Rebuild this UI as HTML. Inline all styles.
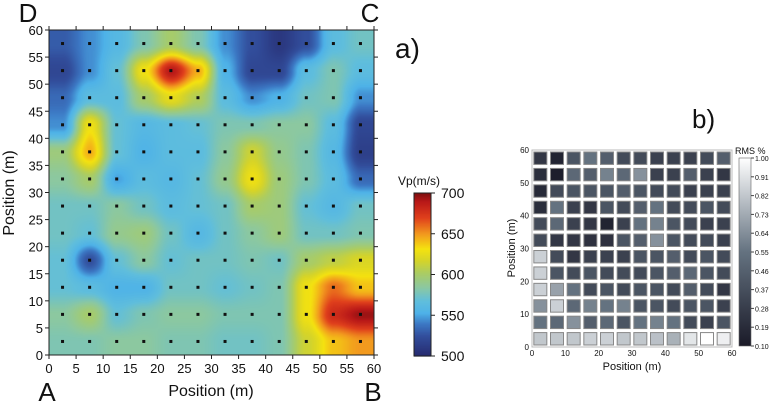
<!DOCTYPE html>
<html><head><meta charset="utf-8"><style>
body{margin:0;background:#fff;width:770px;height:403px;overflow:hidden;font-family:"Liberation Sans",sans-serif;}
svg{position:absolute;left:0;top:0}
canvas{position:absolute}
</style></head><body>
<canvas id="cv" width="325" height="325" style="left:49px;top:30px"></canvas>
<svg id="s" width="770" height="403"></svg>
<script>
const xCats=[2.5,7.5,12.5,17.5,22.5,27.5,32.5,37.5,42.5,47.5,52.5,57.5];
const yCats=[57.5,52.5,47.5,42.5,37.5,32.5,27.5,22.5,17.5,12.5,7.5,2.5];
const vp=[
[530,545,560,580,600,580,545,525,510,525,565,575],
[520,545,570,630,690,645,555,520,520,565,580,565],
[535,565,565,600,625,605,565,545,555,575,580,545],
[545,630,570,560,565,570,580,580,585,585,565,520],
[595,645,570,555,565,565,585,615,590,580,560,515],
[585,600,550,565,560,570,590,630,595,580,565,535],
[575,575,585,575,565,570,575,600,595,570,560,575],
[575,570,590,595,575,560,575,585,595,575,575,580],
[570,525,570,585,570,575,575,580,575,600,610,620],
[570,565,555,555,575,575,570,575,580,630,660,640],
[585,600,570,580,585,585,580,580,580,630,680,695],
[580,580,585,585,580,580,575,575,580,615,640,650]];
const vpTicks=[500,550,600,650,700];
const posTicks=[0,5,10,15,20,25,30,35,40,45,50,55,60];
const rms=[
[.25,.15,.40,.55,.45,.35,.35,.30,.30,.30,.35,.45],
[.20,.12,.50,.45,.60,.50,.65,.30,.30,.45,.30,.25],
[.18,.35,.40,.40,.40,.45,.40,.35,.35,.30,.30,.30],
[.20,.55,.30,.25,.40,.35,.45,.55,.35,.35,.40,.35],
[.35,.50,.30,.25,.15,.30,.55,.60,.40,.35,.30,.30],
[.35,.25,.25,.22,.22,.40,.45,.65,.40,.35,.35,.30],
[.85,.35,.25,.30,.30,.30,.40,.40,.45,.35,.40,.35],
[.85,.40,.35,.40,.35,.35,.35,.40,.45,.50,.40,.35],
[.85,.70,.55,.35,.40,.35,.40,.40,.35,.45,.35,.25],
[.65,.85,.50,.60,.55,.60,.40,.40,.35,.40,.40,.30],
[.55,.50,.65,.45,.50,.40,.55,.60,.55,.35,.30,.40],
[.82,.82,.82,.85,.85,.82,.82,.80,.75,.92,1.0,.95]];
const rmsTicks=["1.00","0.91","0.82","0.73","0.64","0.55","0.46","0.37","0.28","0.19","0.10"];
const bTicks=[0,10,20,30,40,50,60];

const NS="http://www.w3.org/2000/svg", S=document.getElementById('s');
function el(t,a,p){const e=document.createElementNS(NS,t);for(const k in a)e.setAttribute(k,a[k]);(p||S).appendChild(e);return e;}
function tx(x,y,s,size,anchor,name,extra){const e=el('text',Object.assign({x:x,y:y,'font-size':size,'text-anchor':anchor||'middle',fill:'#111','font-family':'Liberation Sans, sans-serif'},extra||{}));e.textContent=s;return e;}
const AX0=49,AX1=374,AY0=355,AY1=30;
const ax=v=>AX0+(AX1-AX0)*v/60, ay=v=>AY0-(AY0-AY1)*v/60;
const stops=[[500,[38,42,110]],[525,[50,78,156]],[540,[60,120,196]],[553,[78,178,232]],[568,[96,190,220]],[585,[140,200,160]],[602,[170,204,100]],[618,[214,212,40]],[632,[244,226,16]],[650,[242,154,30]],[670,[224,64,28]],[690,[184,24,24]],[700,[128,16,16]]];
function cmap(v){if(v<=stops[0][0])return stops[0][1];for(let i=1;i<stops.length;i++){if(v<=stops[i][0]){const a=stops[i-1],b=stops[i],t=(v-a[0])/(b[0]-a[0]);return a[1].map((c,j)=>Math.round(c+(b[1][j]-c)*t));}}return stops[stops.length-1][1];}
const cv=document.getElementById('cv'),ctx=cv.getContext('2d'),img=ctx.createImageData(325,325);
function field(x,y){
 let fx=(x-2.5)/5, fy=(57.5-y)/5;
 fx=Math.max(0,Math.min(11,fx)); fy=Math.max(0,Math.min(11,fy));
 const i0=Math.min(10,Math.floor(fx)),j0=Math.min(10,Math.floor(fy)),tx_=fx-i0,ty=fy-j0;
 const s=t=>t*t*(3-2*t);const a=s(tx_),b=s(ty);
 return (vp[j0][i0]*(1-a)+vp[j0][i0+1]*a)*(1-b)+(vp[j0+1][i0]*(1-a)+vp[j0+1][i0+1]*a)*b;}
for(let py=0;py<325;py++)for(let px=0;px<325;px++){const c=cmap(field(px/325*60,60-py/325*60));const k=(py*325+px)*4;img.data[k]=c[0];img.data[k+1]=c[1];img.data[k+2]=c[2];img.data[k+3]=255;}
ctx.putImageData(img,0,0);
yCats.forEach((y,j)=>xCats.forEach((x,i)=>{const d=el('rect',{x:ax(x)-1.5,y:ay(y)-1.5,width:3,height:3,fill:'#111'});}));
const fr=el('rect',{x:AX0,y:AY1,width:AX1-AX0,height:AY0-AY1,fill:'none',stroke:'#222','stroke-width':1});

posTicks.forEach(v=>{
 el('line',{x1:ax(v),x2:ax(v),y1:AY0,y2:AY0+4,stroke:'#222'});el('line',{x1:ax(v),x2:ax(v),y1:AY1,y2:AY1-4,stroke:'#222'});
 el('line',{x1:AX0,x2:AX0-4,y1:ay(v),y2:ay(v),stroke:'#222'});el('line',{x1:AX1,x2:AX1+4,y1:ay(v),y2:ay(v),stroke:'#222'});
 tx(ax(v),373,v,13,'middle','x-tick-label');tx(AX0-6,ay(v)+5,v,13,'end','y-tick-label');});
tx(211,396,'Position (m)',16,'middle','x-axis-title');
tx(0,0,'Position (m)',16,'middle','y-axis-title',{transform:'translate(14,193) rotate(-90)'});
tx(28,22,'D',26,'middle','corner-d');tx(370,22,'C',26,'middle','corner-c');
tx(47,401,'A',26,'middle','corner-a');tx(373,401,'B',26,'middle','corner-b');
tx(395,58,'a)',28,'start','panel-a-label');
const cby=v=>356-(356-193)*(v-500)/200;
for(let v=500;v<700;v+=1){const c=cmap(v+0.5);el('rect',{x:414,y:cby(v+1),width:17,height:cby(v)-cby(v+1)+0.6,fill:`rgb(${c})`});}
const cbf=el('rect',{x:414,y:193,width:17,height:163,fill:'none',stroke:'#222'});
vpTicks.forEach(v=>{el('line',{x1:431,x2:435,y1:cby(v),y2:cby(v),stroke:'#222'});tx(441,cby(v)+5,v,14,'start','colorbar-tick-label');});
tx(398,185,'Vp(m/s)',12,'start','colorbar-title');
const BX0=532,BX1=732,BY0=347,BY1=150;
const bx=v=>BX0+(BX1-BX0)*v/60, by=v=>BY0-(BY0-BY1)*v/60;
function gmap(v){const a=[26,26,40],m=[100,114,128],w=[255,255,255];let t,p,q;if(v<0.55){t=(v-0.1)/0.45;p=a;q=m;}else{t=(v-0.55)/0.45;p=m;q=w;}t=Math.max(0,Math.min(1,t));return p.map((c,i)=>Math.round(c+(q[i]-c)*t));}
yCats.forEach((y,j)=>xCats.forEach((x,i)=>{const c=gmap(rms[j][i]);const r=el('rect',{x:bx(x)-6.5,y:by(y)-6.2,width:13,height:12.4,fill:`rgb(${c})`,stroke:'#888','stroke-width':1});}));
const bf=el('rect',{x:BX0,y:BY1,width:BX1-BX0,height:BY0-BY1,fill:'none',stroke:'#bbb'});
bTicks.forEach(v=>{tx(bx(v),356,v,8,'middle','b-x-tick-label');tx(BX0-3,by(v)+3,v,8,'end','b-y-tick-label');});
tx(632,370,'Position (m)',11,'middle','b-x-axis-title');
tx(0,0,'Position (m)',11,'middle','b-y-axis-title',{transform:'translate(515,248) rotate(-90)'});
tx(692,128,'b)',26,'start','panel-b-label');
const g=el('defs',{});const lg=el('linearGradient',{id:'gg',x1:0,y1:1,x2:0,y2:0},g);
[0,0.5,1].forEach((o,i)=>el('stop',{offset:o,'stop-color':`rgb(${gmap(0.1+0.9*o)})`},lg));
const gb=el('rect',{x:739,y:158,width:12,height:188,fill:'url(#gg)',stroke:'#666','stroke-width':0.6});
rmsTicks.forEach((s,i)=>{const y=158+188*i/10;el('line',{x1:751,x2:754,y1:y,y2:y,stroke:'#444'});tx(755,y+3,s,7,'start','rms-tick-label');});
tx(735,154,'RMS %',9,'start','rms-colorbar-title');
</script>
</body></html>
